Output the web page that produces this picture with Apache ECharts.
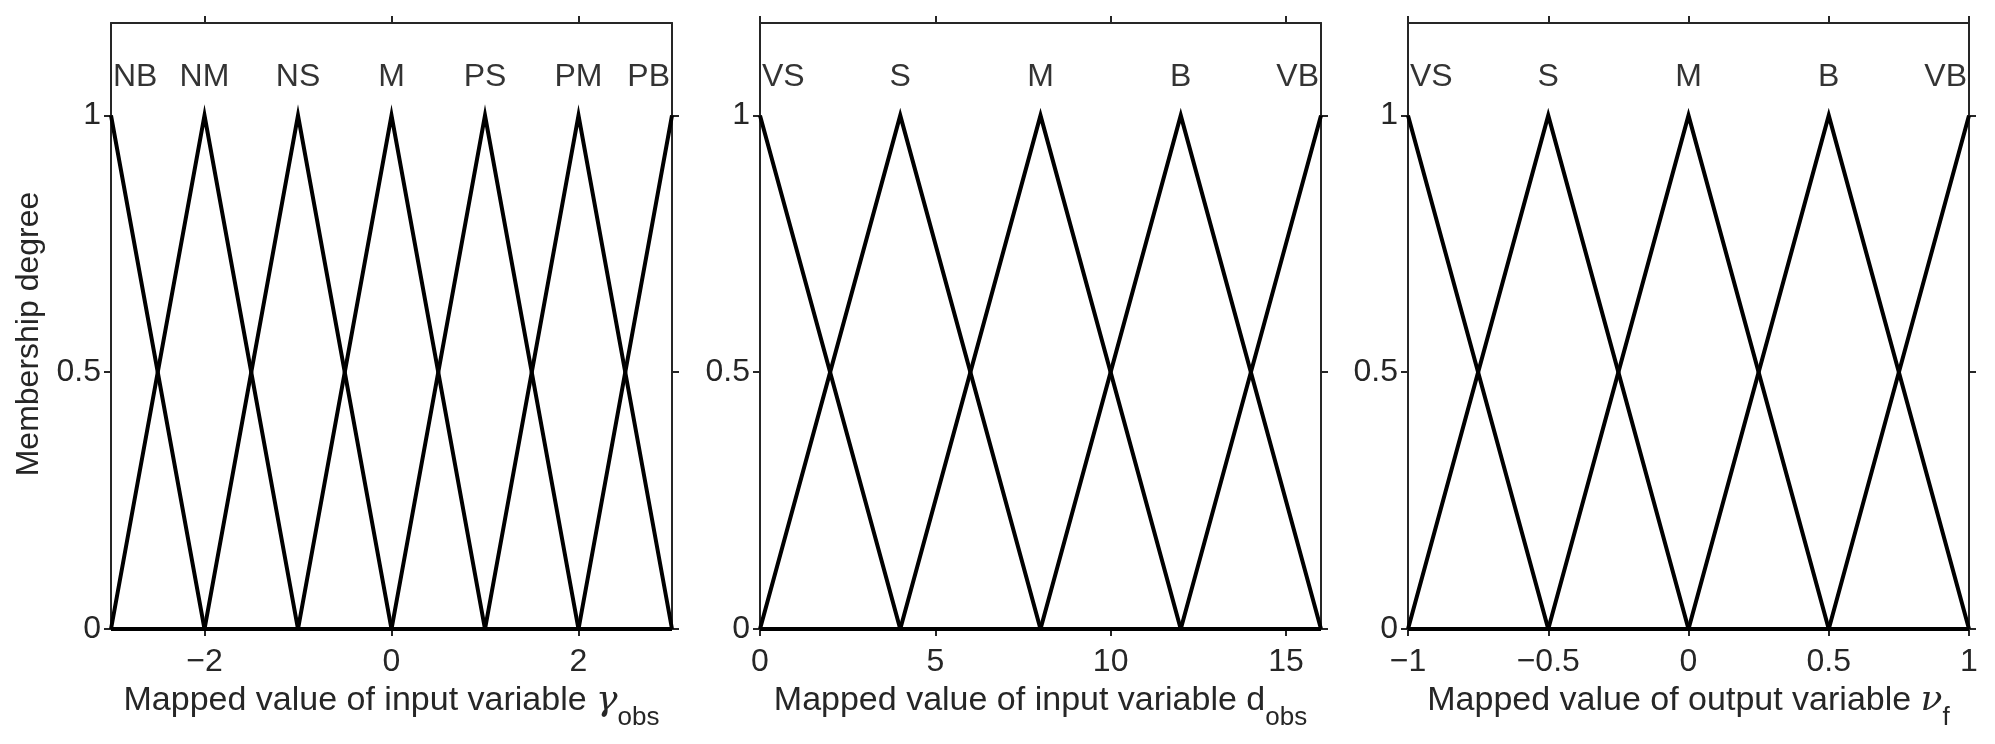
<!DOCTYPE html>
<html>
<head>
<meta charset="utf-8">
<script src="https://cdn.jsdelivr.net/npm/echarts@6/dist/echarts.min.js"></script>
<style>
html, body { margin: 0; padding: 0; background: #fff; }
#chart { width: 1995px; height: 744px; }
</style>
</head>
<body>
<div id="chart"></div>
<script>
// membership function peaks, names and ticks
var gammaCenters = [-3, -2, -1, 0, 1, 2, 3];
var gammaNames = ['NB', 'NM', 'NS', 'M', 'PS', 'PM', 'PB'];
var gammaTicks = [-2, 0, 2];

var distCenters = [0, 4, 8, 12, 16];
var distNames = ['VS', 'S', 'M', 'B', 'VB'];
var distTicks = [0, 5, 10, 15];

var nuCenters = [-1, -0.5, 0, 0.5, 1];
var nuNames = ['VS', 'S', 'M', 'B', 'VB'];
var nuTicks = [-1, -0.5, 0, 0.5, 1];

var degreeTicks = [0, 0.5, 1];
var degreeMax = 1.18;
var nameLevel = 1.075;

var FONT = 'Liberation Sans, Arial, Helvetica, sans-serif';
var AXIS_COLOR = '#262626';

var chart = echarts.init(document.getElementById('chart'));

// triangle vertices of each fuzzy set, zero elsewhere on the axis
function triangles(c) {
	var n = c.length, out = [];
	for (var i = 0; i < n; i++) {
		var pts = [];
		if (i > 0) {
			if (i - 1 > 0) pts.push([c[0], 0]);
			pts.push([c[i - 1], 0]);
		}
		pts.push([c[i], 1]);
		if (i < n - 1) {
			pts.push([c[i + 1], 0]);
			if (i + 1 < n - 1) pts.push([c[n - 1], 0]);
		}
		out.push(pts);
	}
	return out;
}

var panels = [
	{ centers: gammaCenters, names: gammaNames, ticks: gammaTicks, left: 111,
	  title: '{t|Mapped value of input variable }{g|γ}{s|obs}' },
	{ centers: distCenters, names: distNames, ticks: distTicks, left: 760,
	  title: '{t|Mapped value of input variable d}{s|obs}' },
	{ centers: nuCenters, names: nuNames, ticks: nuTicks, left: 1408,
	  title: '{t|Mapped value of output variable }{g|ν}{s|f}' }
];

var minus = function (v) { return String(v).replace('-', '\u2212'); };
var line = { show: true, onZero: false, lineStyle: { color: AXIS_COLOR, width: 2 } };

var grid = [], xAxis = [], yAxis = [], series = [];

panels.forEach(function (p, i) {
	var lo = p.centers[0], hi = p.centers[p.centers.length - 1];
	grid.push({ left: p.left, width: 561, top: 23, height: 606 });

	xAxis.push({
		type: 'value', gridIndex: i, min: lo, max: hi,
		axisLine: line,
		axisTick: { customValues: p.ticks, length: 7, lineStyle: { color: AXIS_COLOR, width: 2 } },
		axisLabel: { customValues: p.ticks, formatter: minus, fontFamily: FONT, fontSize: 32, color: AXIS_COLOR, margin: 17 },
		splitLine: { show: false },
		name: p.title, nameLocation: 'middle', nameGap: 42,
		nameTextStyle: {
			rich: {
				t: { fontFamily: FONT, fontSize: 34, color: AXIS_COLOR },
				g: { fontFamily: 'DejaVu Serif', fontStyle: 'italic', fontSize: 36, color: AXIS_COLOR },
				s: { fontFamily: FONT, fontSize: 26, color: AXIS_COLOR, padding: [34, 0, 0, 0] }
			}
		}
	});

	yAxis.push({
		type: 'value', gridIndex: i, min: 0, max: degreeMax,
		axisLine: line,
		axisTick: { customValues: degreeTicks, length: 7, lineStyle: { color: AXIS_COLOR, width: 2 } },
		axisLabel: { customValues: degreeTicks, fontFamily: FONT, fontSize: 32, color: AXIS_COLOR, margin: 10 },
		splitLine: { show: false },
		name: i === 0 ? 'Membership degree' : '',
		nameLocation: 'middle', nameGap: 66, nameRotate: 90,
		nameTextStyle: { fontFamily: FONT, fontSize: 32, color: AXIS_COLOR, padding: [0, 16, 0, 0] }
	});

	triangles(p.centers).forEach(function (pts, k) {
		series.push({
			name: p.names[k], type: 'line', xAxisIndex: i, yAxisIndex: i,
			data: pts, symbol: 'none', clip: false, silent: true,
			lineStyle: { color: '#000', width: 4, join: 'miter' }
		});
	});

	series.push({
		type: 'scatter', xAxisIndex: i, yAxisIndex: i, symbolSize: 0, silent: true, z: 5,
		data: p.centers.map(function (c, k) {
			var item = { value: [c, nameLevel], name: p.names[k] };
			if (k === 0) item.label = { align: 'left', offset: [2, 0] };
			if (k === p.centers.length - 1) item.label = { align: 'right', offset: [-2, 0] };
			return item;
		}),
		label: {
			show: true, position: 'inside', formatter: '{b}',
			fontFamily: FONT, fontSize: 32, color: '#000'
		}
	});
});

// box on: ticks on the top and right edges, no labels
panels.forEach(function (p, i) {
	var lo = p.centers[0], hi = p.centers[p.centers.length - 1];
	xAxis.push({
		type: 'value', gridIndex: i, position: 'top', min: lo, max: hi,
		axisLine: line,
		axisTick: { customValues: p.ticks, length: 7, lineStyle: { color: AXIS_COLOR, width: 2 } },
		axisLabel: { show: false }, splitLine: { show: false }
	});
	yAxis.push({
		type: 'value', gridIndex: i, position: 'right', min: 0, max: degreeMax,
		axisLine: line,
		axisTick: { customValues: degreeTicks, length: 7, lineStyle: { color: AXIS_COLOR, width: 2 } },
		axisLabel: { show: false }, splitLine: { show: false }
	});
});

chart.setOption({
	animation: false,
	backgroundColor: '#fff',
	grid: grid,
	xAxis: xAxis,
	yAxis: yAxis,
	series: series
});
</script>
</body>
</html>
